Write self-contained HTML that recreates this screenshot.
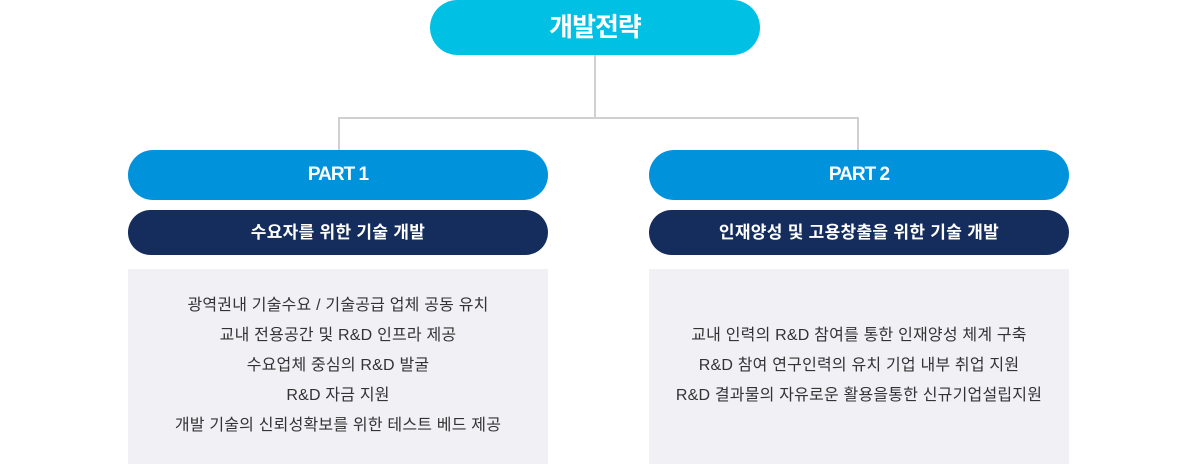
<!DOCTYPE html>
<html><head><meta charset="utf-8"><style>
body{margin:0;width:1190px;height:464px;background:#fff;position:relative;overflow:hidden;font-family:"Liberation Sans","Noto Sans CJK KR",sans-serif}
.pill{position:absolute;color:#fff;font-weight:bold;text-align:center;border-radius:25px}
.top{left:430px;top:0;width:330px;height:55px;line-height:55px;background:#00c1e4;border-radius:28px;font-size:26px;letter-spacing:-1px}
.part{top:150px;width:420px;height:50px;line-height:50px;background:#0093dc;font-size:19px;letter-spacing:-1px}
.sub{top:210px;width:420px;height:45px;line-height:45px;background:#152d5c;font-size:17px;border-radius:23px;letter-spacing:0.3px}
.box{position:absolute;top:269px;width:420px;height:195px;background:#f1f1f5;text-align:center;color:#333;font-size:16px;line-height:30px;letter-spacing:0.2px}
.ln{position:absolute;background:#d0d0d0}
</style></head><body>
<div class="pill top">개발전략</div>
<div class="ln" style="left:594px;top:55px;width:2px;height:64px"></div>
<div class="ln" style="left:338px;top:117px;width:521px;height:2px"></div>
<div class="ln" style="left:338px;top:117px;width:2px;height:33px"></div>
<div class="ln" style="left:857px;top:117px;width:2px;height:33px"></div>
<div class="pill part" style="left:128px">PART 1</div>
<div class="pill part" style="left:649px">PART 2</div>
<div class="pill sub" style="left:128px">수요자를 위한 기술 개발</div>
<div class="pill sub" style="left:649px">인재양성 및 고용창출을 위한 기술 개발</div>
<div class="box" style="left:128px;padding-top:22px;box-sizing:border-box">광역권내 기술수요 / 기술공급 업체 공동 유치<br>교내 전용공간 및 R&amp;D 인프라 제공<br>수요업체 중심의 R&amp;D 발굴<br>R&amp;D 자금 지원<br>개발 기술의 신뢰성확보를 위한 테스트 베드 제공</div>
<div class="box" style="left:649px;padding-top:52px;box-sizing:border-box">교내 인력의 R&amp;D 참여를 통한 인재양성 체계 구축<br>R&amp;D 참여 연구인력의 유치 기업 내부 취업 지원<br>R&amp;D 결과물의 자유로운 활용을통한 신규기업설립지원</div>
</body></html>
